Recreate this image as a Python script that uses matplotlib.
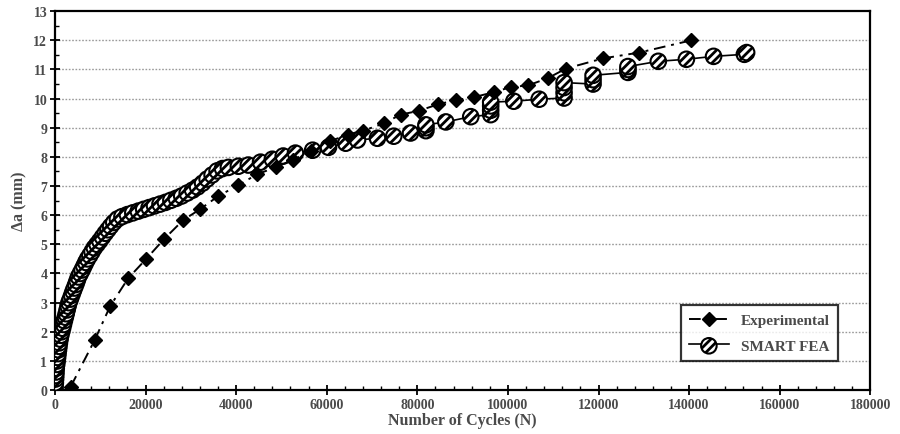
import matplotlib
matplotlib.use("Agg")
import matplotlib.pyplot as plt
from matplotlib.ticker import MultipleLocator, FuncFormatter

# ---------------- data ----------------
exp_cycles = [3500, 8800, 12200, 16200, 20100, 24100, 28300, 32000, 36100, 40500,
              44700, 48700, 52500, 56500, 60800, 64600, 68100, 72600, 76300, 80300,
              84500, 88500, 92500, 96900, 100700, 104400, 108800, 112800, 121000,
              129000, 140500]
exp_da = [0.12, 1.72, 2.88, 3.84, 4.49, 5.18, 5.83, 6.20, 6.66, 7.03,
          7.41, 7.64, 7.90, 8.20, 8.55, 8.75, 8.90, 9.15, 9.45, 9.58,
          9.80, 9.95, 10.05, 10.22, 10.40, 10.45, 10.70, 11.03, 11.38,
          11.58, 12.00]

fea_cycles = [0, 50, 100, 150, 200, 250, 300, 400, 500, 600, 700, 800, 900, 1000,
              1150, 1300, 1500, 1700, 1900, 2100, 2300, 2500, 2700, 2900, 3100,
              3400, 3700, 4000, 4300, 4600, 4900, 5200, 5600, 6000, 6400, 6800,
              7200, 7700, 8200, 8700, 9300, 9900, 10500, 11100, 11700, 12300,
              13000, 13800, 14800, 16000, 17200, 18400, 19600, 20800, 22000,
              23200, 24400, 25600, 26800, 28000, 29200, 30400, 31500, 32600,
              33600, 34700, 35800, 37000, 38300, 40500, 42700, 45400, 48000,
              50400, 53100, 56900, 60400, 64200, 66800, 71200, 74800, 78500,
              81900, 81900, 81900, 86300, 91800, 96200, 96200, 96200, 96200,
              101300, 106900, 112400, 112400, 112400, 112400, 118800, 118800,
              118800, 126500, 126500, 126500, 133200, 139400, 145400, 152200,
              152700]
fea_da = [0.00, 0.12, 0.25, 0.38, 0.50, 0.62, 0.75, 0.88, 1.00, 1.12, 1.25, 1.38,
          1.50, 1.62, 1.75, 1.88, 2.00, 2.12, 2.25, 2.38, 2.50, 2.62, 2.75, 2.88,
          3.00, 3.12, 3.25, 3.38, 3.50, 3.62, 3.75, 3.88, 4.00, 4.12, 4.25, 4.38,
          4.50, 4.62, 4.75, 4.88, 5.00, 5.12, 5.25, 5.38, 5.50, 5.62, 5.75, 5.87,
          5.95, 6.02, 6.08, 6.14, 6.20, 6.26, 6.32, 6.38, 6.44, 6.51, 6.58, 6.66,
          6.76, 6.86, 6.97, 7.10, 7.24, 7.38, 7.52, 7.60, 7.64, 7.68, 7.72, 7.82,
          7.92, 8.03, 8.13, 8.23, 8.33, 8.47, 8.58, 8.64, 8.71, 8.82, 8.90, 9.00,
          9.10, 9.20, 9.38, 9.45, 9.60, 9.75, 9.88, 9.91, 9.98, 10.02, 10.20,
          10.38, 10.55, 10.50, 10.65, 10.80, 10.90, 11.00, 11.10, 11.28, 11.35,
          11.45, 11.52, 11.58]

x_ticks = [0, 20000, 40000, 60000, 80000, 100000, 120000, 140000, 160000, 180000]
y_ticks = list(range(0, 14))

# ---------------- style ----------------
plt.rcParams['font.family'] = ['Liberation Serif', 'DejaVu Serif']
plt.rcParams['font.weight'] = 'bold'
plt.rcParams['hatch.linewidth'] = 2.0
txt_color = '#4a4a4a'

fig = plt.figure(figsize=(9, 4.35), dpi=100)
ax = fig.add_axes([0.061, 0.101, 0.906, 0.871])

# grid
for yv in y_ticks[1:-1]:
    ax.axhline(yv, color='#9a9a9a', lw=1.0, ls=(0, (1.2, 1.2)), zorder=0)

# SMART FEA
fea_line, = ax.plot(fea_cycles, fea_da, color='black', lw=1.2, zorder=2)
fea_sc = ax.scatter(fea_cycles, fea_da, s=125, facecolor='white',
                    edgecolor='black', linewidth=1.5, hatch='////', zorder=3)

# Experimental
exp_line, = ax.plot(exp_cycles, exp_da, color='black', lw=1.4,
                    ls=(0, (6, 3, 1.5, 3)), marker='D', markersize=7.5,
                    markerfacecolor='black', markeredgecolor='black', zorder=4)

ax.set_xlim(0, 180000)
ax.set_ylim(0, 13)
ax.set_xticks(x_ticks)
ax.set_yticks(y_ticks)
ax.xaxis.set_minor_locator(MultipleLocator(4000))
ax.yaxis.set_minor_locator(MultipleLocator(0.5))
ax.xaxis.set_major_formatter(FuncFormatter(lambda v, p: f"{int(v)}"))

ax.tick_params(axis='both', which='major', direction='inout', length=7,
               width=1.3, labelsize=10, labelcolor=txt_color, pad=2)
ax.tick_params(axis='both', which='minor', direction='in', length=3, width=1.0)
ax.tick_params(axis='x', which='both', top=False)
ax.tick_params(axis='y', which='both', right=False)
for lab in ax.get_xticklabels() + ax.get_yticklabels():
    lab.set_fontweight('bold')

for sp in ax.spines.values():
    sp.set_linewidth(1.6)
    sp.set_color('black')

ax.set_xlabel('Number of Cycles (N)', fontsize=11.5, fontweight='bold',
              color=txt_color, labelpad=1)
ax.set_ylabel('Δa (mm)', fontsize=11.5, fontweight='bold', color=txt_color,
              labelpad=4)

leg = ax.legend([exp_line, (fea_line, fea_sc)], ['Experimental', 'SMART FEA'],
                loc='lower left', bbox_to_anchor=(0.758, 0.056),
                frameon=True, fancybox=False, edgecolor='black',
                handlelength=2.6, borderpad=0.55, labelspacing=0.8,
                scatterpoints=1, prop={'size': 11, 'weight': 'bold'})
leg.get_frame().set_linewidth(1.6)
for t in leg.get_texts():
    t.set_color(txt_color)

fig.savefig('out.png', dpi=100)
